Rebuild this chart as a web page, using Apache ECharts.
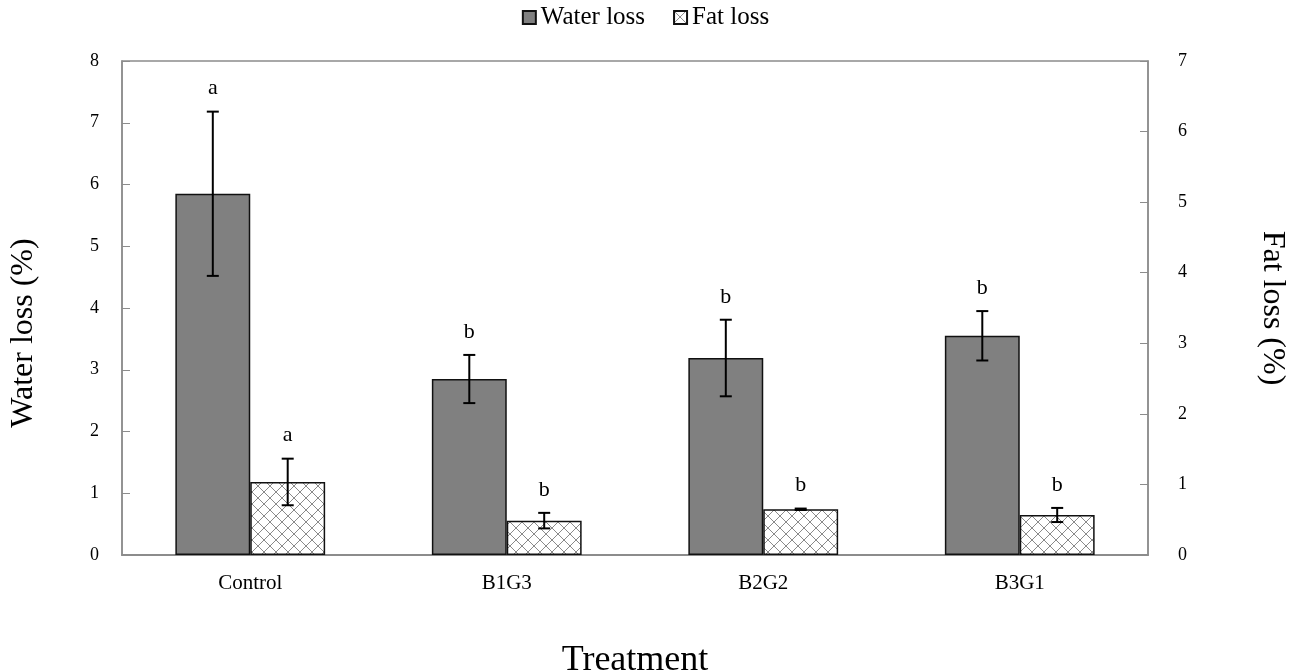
<!DOCTYPE html>
<html>
<head>
<meta charset="utf-8">
<script src="https://cdn.jsdelivr.net/npm/echarts@6/dist/echarts.min.js"></script>
<style>html,body{margin:0;padding:0;background:#fff;}#c{width:1291px;height:672px;}</style>
</head>
<body>
<div id="c"></div>
<script>
const categories = ['Control', 'B1G3', 'B2G2', 'B3G1'];
const waterLoss = [5.85, 2.85, 3.19, 3.55];
const waterErr = [1.33, 0.39, 0.62, 0.40];
const waterLetters = ['a', 'b', 'b', 'b'];
const fatLoss = [1.035, 0.487, 0.648, 0.567];
const fatErr = [0.33, 0.11, 0.01, 0.10];
const fatLetters = ['a', 'b', 'b', 'b'];

const FONT = "'Liberation Serif', 'Times New Roman', serif";

function makePattern() {
  const s = 12;
  const cv = document.createElement('canvas');
  cv.width = s; cv.height = s;
  const ctx = cv.getContext('2d');
  ctx.fillStyle = '#fff';
  ctx.fillRect(0, 0, s, s);
  ctx.strokeStyle = '#8a8a8a';
  ctx.lineWidth = 1;
  ctx.beginPath();
  ctx.moveTo(0, 0); ctx.lineTo(s, s);
  ctx.moveTo(s, 0); ctx.lineTo(0, s);
  ctx.stroke();
  return cv;
}
const pattern = { image: makePattern(), repeat: 'repeat' };

const BAR_FRAC = 0.292;

function errRenderer(vals, errs, letters, side) {
  return function (params, api) {
    const i = params.dataIndex;
    const band = api.size([1, 0])[0];
    const c = api.coord([i, vals[i]]);
    const x = c[0] + side * band * BAR_FRAC / 2;
    const top = api.coord([i, vals[i] + errs[i]])[1];
    const bot = api.coord([i, vals[i] - errs[i]])[1];
    const cap = 6;
    const st = { stroke: '#000', lineWidth: 2 };
    return {
      type: 'group',
      children: [
        { type: 'line', shape: { x1: x, y1: top, x2: x, y2: bot }, style: st },
        { type: 'line', shape: { x1: x - cap, y1: top, x2: x + cap, y2: top }, style: st },
        { type: 'line', shape: { x1: x - cap, y1: bot, x2: x + cap, y2: bot }, style: st },
        { type: 'text', x: x, y: top - 12, style: { text: letters[i], fill: '#000', font: '22px ' + FONT, textAlign: 'center', textVerticalAlign: 'bottom' } }
      ]
    };
  };
}

const chart = echarts.init(document.getElementById('c'));
chart.setOption({
  animation: false,
  backgroundColor: '#fff',
  textStyle: { fontFamily: FONT },
  legend: {
    top: 0,
    left: 'center',
    itemWidth: 13,
    itemHeight: 13,
    itemGap: 28,
    textStyle: { fontFamily: FONT, fontSize: 25, color: '#000' },
    data: [
      { name: 'Water loss', icon: 'rect' },
      { name: 'Fat loss', icon: 'rect' }
    ]
  },
  grid: { left: 122, right: 143, top: 61, bottom: 117, show: true, borderColor: '#8c8c8c', borderWidth: 1.5, backgroundColor: 'transparent', outerBoundsMode: 'none', containLabel: false },
  xAxis: {
    type: 'category',
    data: categories,
    name: 'Treatment',
    nameLocation: 'middle',
    nameGap: 88,
    nameTextStyle: { fontFamily: FONT, fontSize: 36, color: '#000' },
    axisLine: { lineStyle: { color: '#8c8c8c', width: 2 } },
    axisTick: { show: false },
    axisLabel: { fontFamily: FONT, fontSize: 21, color: '#000', margin: 18 }
  },
  yAxis: [
    {
      type: 'value', min: 0, max: 8, interval: 1,
      name: 'Water loss (%)', nameLocation: 'middle', nameGap: 82,
      nameTextStyle: { fontFamily: FONT, fontSize: 32, color: '#000', padding: [0, 50, 0, 0] },
      axisLine: { show: true, lineStyle: { color: '#8c8c8c', width: 1.5 } },
      axisTick: { show: true, inside: true, length: 8, lineStyle: { color: '#8c8c8c' } },
      axisLabel: { fontFamily: FONT, fontSize: 18, color: '#000', margin: 23 },
      splitLine: { show: false }
    },
    {
      type: 'value', min: 0, max: 7, interval: 1, position: 'right',
      name: 'Fat loss (%)', nameLocation: 'middle', nameGap: 108, nameRotate: -90,
      nameTextStyle: { fontFamily: FONT, fontSize: 32, color: '#000' },
      axisLine: { show: true, lineStyle: { color: '#8c8c8c', width: 1.5 } },
      axisTick: { show: true, inside: true, length: 8, lineStyle: { color: '#8c8c8c' } },
      axisLabel: { fontFamily: FONT, fontSize: 18, color: '#000', margin: 30 },
      splitLine: { show: false }
    }
  ],
  series: [
    {
      name: 'Water loss', type: 'bar', yAxisIndex: 0, data: waterLoss,
      barWidth: (BAR_FRAC * 100) + '%', barGap: '0%',
      itemStyle: { color: '#808080', borderColor: '#111', borderWidth: 1.5 }
    },
    {
      name: 'Fat loss', type: 'bar', yAxisIndex: 1, data: fatLoss,
      barWidth: (BAR_FRAC * 100) + '%', barGap: '0%',
      itemStyle: { color: pattern, borderColor: '#111', borderWidth: 1.5 }
    },
    {
      type: 'custom', yAxisIndex: 0, data: waterLoss, z: 10,
      renderItem: errRenderer(waterLoss, waterErr, waterLetters, -1)
    },
    {
      type: 'custom', yAxisIndex: 1, data: fatLoss, z: 10,
      renderItem: errRenderer(fatLoss, fatErr, fatLetters, 1)
    }
  ]
});
</script>
</body>
</html>
